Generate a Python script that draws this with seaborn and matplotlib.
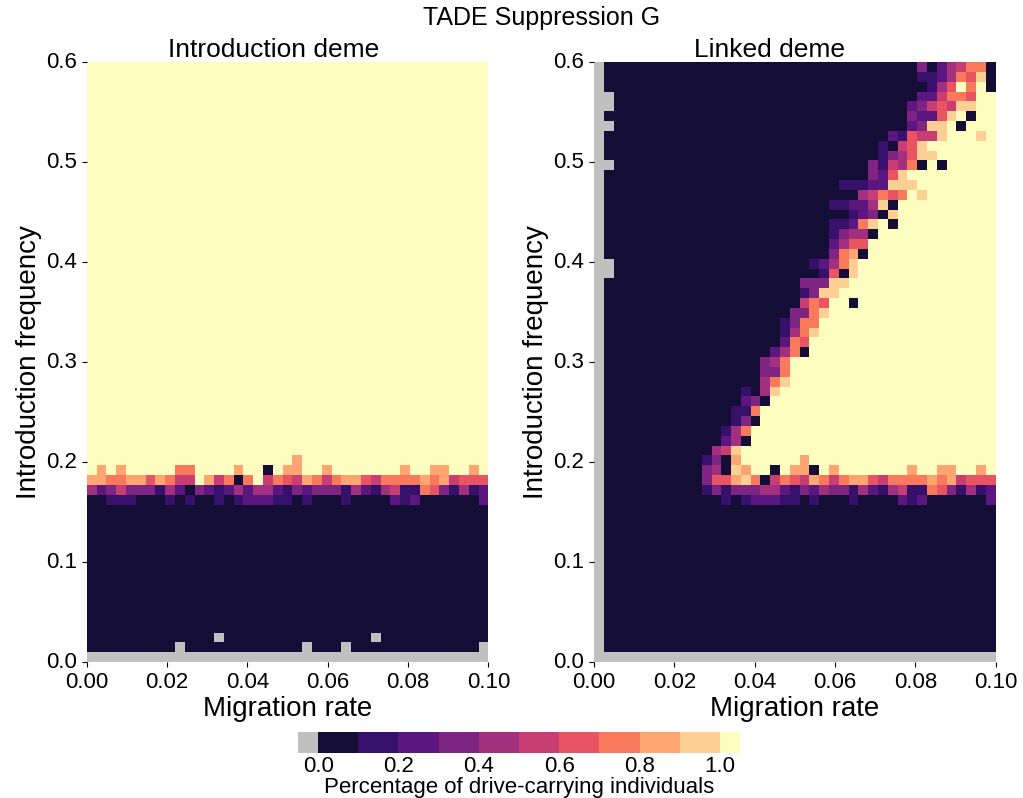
import numpy as np
import matplotlib
matplotlib.use("Agg")
import matplotlib.pyplot as plt
import seaborn as sns
from matplotlib.colors import ListedColormap, BoundaryNorm

plt.rcParams['font.family'] = ['Liberation Sans', 'DejaVu Sans']

# ---------------- data ----------------
title = "TADE Suppression G"
panel_titles = ["Introduction deme", "Linked deme"]
x_label = "Migration rate"
y_label = "Introduction frequency"
cbar_label = "Percentage of drive-carrying individuals"

migration_ticks = ["0.00", "0.02", "0.04", "0.06", "0.08", "0.10"]
frequency_ticks = ["0.0", "0.1", "0.2", "0.3", "0.4", "0.5", "0.6"]
cbar_ticks = [0.0, 0.2, 0.4, 0.6, 0.8, 1.0]
cbar_ticklabels = ["0.0", "0.2", "0.4", "0.6", "0.8", "1.0"]
bin_edges = [0.0, 0.1, 0.2, 0.3, 0.4, 0.5, 0.6, 0.7, 0.8, 0.9, 1.0]

# cell codes: g = population gone (grey), 0..9 = share bin 0.0-0.1 .. 0.9-1.0, Y = 1.0
# rows listed from the top (freq 0.60) to the bottom (freq 0.00), 41 migration columns
intro_rows = [
    "YYYYYYYYYY" "YYYYYYYYYY" "YYYYYYYYYY" "YYYYYYYYYY" "Y",
    "YYYYYYYYYY" "YYYYYYYYYY" "YYYYYYYYYY" "YYYYYYYYYY" "Y",
    "YYYYYYYYYY" "YYYYYYYYYY" "YYYYYYYYYY" "YYYYYYYYYY" "Y",
    "YYYYYYYYYY" "YYYYYYYYYY" "YYYYYYYYYY" "YYYYYYYYYY" "Y",
    "YYYYYYYYYY" "YYYYYYYYYY" "YYYYYYYYYY" "YYYYYYYYYY" "Y",
    "YYYYYYYYYY" "YYYYYYYYYY" "YYYYYYYYYY" "YYYYYYYYYY" "Y",
    "YYYYYYYYYY" "YYYYYYYYYY" "YYYYYYYYYY" "YYYYYYYYYY" "Y",
    "YYYYYYYYYY" "YYYYYYYYYY" "YYYYYYYYYY" "YYYYYYYYYY" "Y",
    "YYYYYYYYYY" "YYYYYYYYYY" "YYYYYYYYYY" "YYYYYYYYYY" "Y",
    "YYYYYYYYYY" "YYYYYYYYYY" "YYYYYYYYYY" "YYYYYYYYYY" "Y",
    "YYYYYYYYYY" "YYYYYYYYYY" "YYYYYYYYYY" "YYYYYYYYYY" "Y",
    "YYYYYYYYYY" "YYYYYYYYYY" "YYYYYYYYYY" "YYYYYYYYYY" "Y",
    "YYYYYYYYYY" "YYYYYYYYYY" "YYYYYYYYYY" "YYYYYYYYYY" "Y",
    "YYYYYYYYYY" "YYYYYYYYYY" "YYYYYYYYYY" "YYYYYYYYYY" "Y",
    "YYYYYYYYYY" "YYYYYYYYYY" "YYYYYYYYYY" "YYYYYYYYYY" "Y",
    "YYYYYYYYYY" "YYYYYYYYYY" "YYYYYYYYYY" "YYYYYYYYYY" "Y",
    "YYYYYYYYYY" "YYYYYYYYYY" "YYYYYYYYYY" "YYYYYYYYYY" "Y",
    "YYYYYYYYYY" "YYYYYYYYYY" "YYYYYYYYYY" "YYYYYYYYYY" "Y",
    "YYYYYYYYYY" "YYYYYYYYYY" "YYYYYYYYYY" "YYYYYYYYYY" "Y",
    "YYYYYYYYYY" "YYYYYYYYYY" "YYYYYYYYYY" "YYYYYYYYYY" "Y",
    "YYYYYYYYYY" "YYYYYYYYYY" "YYYYYYYYYY" "YYYYYYYYYY" "Y",
    "YYYYYYYYYY" "YYYYYYYYYY" "YYYYYYYYYY" "YYYYYYYYYY" "Y",
    "YYYYYYYYYY" "YYYYYYYYYY" "YYYYYYYYYY" "YYYYYYYYYY" "Y",
    "YYYYYYYYYY" "YYYYYYYYYY" "YYYYYYYYYY" "YYYYYYYYYY" "Y",
    "YYYYYYYYYY" "YYYYYYYYYY" "YYYYYYYYYY" "YYYYYYYYYY" "Y",
    "YYYYYYYYYY" "YYYYYYYYYY" "YYYYYYYYYY" "YYYYYYYYYY" "Y",
    "YYYYYYYYYY" "YYYYYYYYYY" "YYYYYYYYYY" "YYYYYYYYYY" "Y",
    "YYYYYYYYYY" "YYYYYYYYYY" "YYYYYYYYYY" "YYYYYYYYYY" "Y",
    "YYYYYYYYYY" "YYYYYYYYYY" "YYYYYYYYYY" "YYYYYYYYYY" "Y",
    "YYYYYYYYYY" "YYYYYYYYYY" "YYYYYYYYYY" "YYYYYYYYYY" "Y",
    "YYYYYYYYYY" "YYYYYYYYYY" "YYYYYYYYYY" "YYYYYYYYYY" "Y",
    "YYYYYYYYYY" "YYYYYYYYYY" "YYYYYYYYYY" "YYYYYYYYYY" "Y",
    "YYYYYYYYYY" "YYYYYYYYYY" "YYYYYYYYYY" "YYYYYYYYYY" "Y",
    "YYYYYYYYYY" "YYYYYYYYYY" "YYYYYYYYYY" "YYYYYYYYYY" "Y",
    "YYYYYYYYYY" "YYYYYYYYYY" "YYYYYYYYYY" "YYYYYYYYYY" "Y",
    "YYYYYYYYYY" "YYYYYYYYYY" "YYYYYYYYYY" "YYYYYYYYYY" "Y",
    "YYYYYYYYYY" "YYYYYYYYYY" "YYYYYYYYYY" "YYYYYYYYYY" "Y",
    "YYYYYYYYYY" "YYYYYYYYYY" "YYYYYYYYYY" "YYYYYYYYYY" "Y",
    "YYYYYYYYYY" "YYYYYYYYYY" "YYYYYYYYYY" "YYYYYYYYYY" "Y",
    "YYYYYYYYYY" "YYYYYYYYYY" "YYYYYYYYYY" "YYYYYYYYYY" "Y",
    "YYYYYYYYYY" "YYYYYYYYYY" "Y8YYYYYYYY" "YYYYYYYYYY" "Y",
    "Y8Y8YYYYY7" "7YYYY8YY0Y" "88YY8YYYYY" "YY8YY88YY8" "Y",
    "8877886875" "5Y85707Y57" "6587578865" "7777878566" "6",
    "4235333142" "0321242442" "1323331421" "4511763141" "2",
    "0011100010" "1001012221" "1010001000" "0212000000" "2",
    "0000000000" "0000000000" "0000000000" "0000000000" "0",
    "0000000000" "0000000000" "0000000000" "0000000000" "0",
    "0000000000" "0000000000" "0000000000" "0000000000" "0",
    "0000000000" "0000000000" "0000000000" "0000000000" "0",
    "0000000000" "0000000000" "0000000000" "0000000000" "0",
    "0000000000" "0000000000" "0000000000" "0000000000" "0",
    "0000000000" "0000000000" "0000000000" "0000000000" "0",
    "0000000000" "0000000000" "0000000000" "0000000000" "0",
    "0000000000" "0000000000" "0000000000" "0000000000" "0",
    "0000000000" "0000000000" "0000000000" "0000000000" "0",
    "0000000000" "0000000000" "0000000000" "0000000000" "0",
    "0000000000" "0000000000" "0000000000" "0000000000" "0",
    "0000000000" "0000000000" "0000000000" "0000000000" "0",
    "0000000000" "000g000000" "000000000g" "0000000000" "0",
    "000000000g" "0000000000" "00g000g000" "0000000000" "g",
    "gggggggggg" "gggggggggg" "gggggggggg" "gggggggggg" "g",
]

linked_rows = [
    "g000000000" "0000000000" "0000000000" "0003024577" "0",
    "g000000000" "0000000000" "0000000000" "0001124769" "0",
    "g000000000" "0000000000" "0000000000" "0000146Y7Y" "0",
    "gg00000000" "0000000000" "0000000000" "000225776Y" "Y",
    "gg00000000" "0000000000" "0000000000" "002356599Y" "Y",
    "g000000000" "0000000000" "0000000000" "0032269Y0Y" "Y",
    "gg00000000" "0000000000" "0000000000" "002399Y0YY" "Y",
    "g000000000" "0000000000" "0000000000" "216559YYY9" "Y",
    "g000000000" "0000000000" "0000000001" "0569YYYYYY" "Y",
    "g000000000" "0000000000" "0000000001" "34699YYYYY" "Y",
    "gg00000000" "0000000000" "0000000031" "5470Y0YYYY" "Y",
    "g000000000" "0000000000" "0000000032" "69YYYYYYYY" "Y",
    "g000000000" "0000000000" "0000011122" "999YYYYYYY" "Y",
    "g000000000" "0000000000" "0000000457" "67Y9YYYYYY" "Y",
    "g000000000" "0000000000" "0000112249" "0YYYYYYYYY" "Y",
    "g000000000" "0000000000" "0000001230" "9YYYYYYYYY" "Y",
    "g000000000" "0000000000" "000011279Y" "0YYYYYYYYY" "Y",
    "g000000000" "0000000000" "000013440Y" "YYYYYYYYYY" "Y",
    "g000000000" "0000000000" "00002466YY" "YYYYYYYYYY" "Y",
    "g000000000" "0000000000" "00003780YY" "YYYYYYYYYY" "Y",
    "gg00000000" "0000000000" "0012479YYY" "YYYYYYYYYY" "Y",
    "gg00000000" "0000000000" "0001609YYY" "YYYYYYYYYY" "Y",
    "g000000000" "0000000000" "033399YYYY" "YYYYYYYYYY" "Y",
    "g000000000" "0000000000" "01399YYYYY" "YYYYYYYYYY" "Y",
    "g000000000" "0000000000" "0576YY0YYY" "YYYYYYYYYY" "Y",
    "g000000000" "0000000000" "3379YYYYYY" "YYYYYYYYYY" "Y",
    "g000000000" "0000000001" "377YYYYYYY" "YYYYYYYYYY" "Y",
    "g000000000" "0000000001" "479YYYYYYY" "YYYYYYYYYY" "Y",
    "g000000000" "0000000002" "76YYYYYYYY" "YYYYYYYYYY" "Y",
    "g000000000" "0000000024" "70YYYYYYYY" "YYYYYYYYYY" "Y",
    "g000000000" "0000000347" "YYYYYYYYYY" "YYYYYYYYYY" "Y",
    "g000000000" "0000000337" "YYYYYYYYYY" "YYYYYYYYYY" "Y",
    "g000000000" "0000000479" "YYYYYYYYYY" "YYYYYYYYYY" "Y",
    "g000000000" "000001049Y" "YYYYYYYYYY" "YYYYYYYYYY" "Y",
    "g000000000" "00000230YY" "YYYYYYYYYY" "YYYYYYYYYY" "Y",
    "g000000000" "0000117YYY" "YYYYYYYYYY" "YYYYYYYYYY" "Y",
    "g000000000" "0000130YYY" "YYYYYYYYYY" "YYYYYYYYYY" "Y",
    "g000000000" "000147YYYY" "YYYYYYYYYY" "YYYYYYYYYY" "Y",
    "g000000000" "000240YYYY" "YYYYYYYYYY" "YYYYYYYYYY" "Y",
    "g000000000" "00459YYYYY" "YYYYYYYYYY" "YYYYYYYYYY" "Y",
    "g000000000" "01308YYYYY" "Y8YYYYYYYY" "YYYYYYYYYY" "Y",
    "g000000000" "034098YY0Y" "880Y8YYYYY" "YY8YY88YY8" "Y",
    "g000000000" "0366897057" "6587578865" "7777878566" "6",
    "g000000000" "0131333442" "1324331421" "4511763141" "2",
    "g000000000" "0001012221" "1010001000" "0212000000" "2",
    "g000000000" "0000000000" "0000000000" "0000000000" "0",
    "g000000000" "0000000000" "0000000000" "0000000000" "0",
    "g000000000" "0000000000" "0000000000" "0000000000" "0",
    "g000000000" "0000000000" "0000000000" "0000000000" "0",
    "g000000000" "0000000000" "0000000000" "0000000000" "0",
    "g000000000" "0000000000" "0000000000" "0000000000" "0",
    "g000000000" "0000000000" "0000000000" "0000000000" "0",
    "g000000000" "0000000000" "0000000000" "0000000000" "0",
    "g000000000" "0000000000" "0000000000" "0000000000" "0",
    "g000000000" "0000000000" "0000000000" "0000000000" "0",
    "g000000000" "0000000000" "0000000000" "0000000000" "0",
    "g000000000" "0000000000" "0000000000" "0000000000" "0",
    "g000000000" "0000000000" "0000000000" "0000000000" "0",
    "g000000000" "0000000000" "0000000000" "0000000000" "0",
    "g000000000" "0000000000" "0000000000" "0000000000" "0",
    "gggggggggg" "gggggggggg" "gggggggggg" "gggggggggg" "g",
]


def decode(rows):
    out = []
    for r in rows:
        assert len(r) == 41, (len(r), r)
        vals = []
        for ch in r:
            if ch == "g":
                vals.append(-0.5)
            elif ch == "Y":
                vals.append(1.0)
            else:
                vals.append((int(ch) + 0.5) / 10.0)
        out.append(vals)
    assert len(out) == 61
    return np.array(out)


grids = [decode(intro_rows), decode(linked_rows)]

# ---------------- colours ----------------
magma = plt.get_cmap("magma")
cmap = ListedColormap(magma(np.linspace(0.1, 0.9, 10)))
cmap.set_under("#c0c0c0")
cmap.set_over(magma(1.0))
norm = BoundaryNorm(bin_edges, cmap.N)

# ---------------- figure ----------------
fig = plt.figure(figsize=(10.23, 7.98), dpi=100)
ax_l = fig.add_axes([0.0848, 0.1704, 0.3926, 0.7519])
ax_r = fig.add_axes([0.5806, 0.1704, 0.3926, 0.7519])
cax = fig.add_axes([0.2913, 0.0564, 0.4321, 0.0263])

title_x = [0.466, 0.438]
for ax, grid, ptitle, tx in zip([ax_l, ax_r], grids, panel_titles, title_x):
    sns.heatmap(grid, ax=ax, cmap=cmap, norm=norm, cbar=False,
                xticklabels=False, yticklabels=False, linewidths=0)
    nrow, ncol = grid.shape
    ax.set_xticks(np.linspace(0, ncol, len(migration_ticks)))
    ax.set_xticklabels(migration_ticks, rotation=0)
    ax.set_yticks(np.linspace(0, nrow, len(frequency_ticks)))
    ax.set_yticklabels(frequency_ticks[::-1], rotation=0, va="center")
    ax.tick_params(axis="both", length=3.5, width=0.8, pad=3.5, labelsize=16,
                   colors="black")
    ax.set_xlabel(x_label, fontsize=20, labelpad=2)
    ax.set_ylabel(y_label, fontsize=20, labelpad=3)
    ax.set_title(ptitle, fontsize=19, pad=3, x=tx)

fig.text(0.529, 1 - 18 / 798, title, ha="center", va="center", fontsize=18)

cb = fig.colorbar(ax_l.collections[0], cax=cax, orientation="horizontal",
                  extend="both", extendrect=True, ticks=cbar_ticks)
cb.set_ticklabels(cbar_ticklabels)
cb.minorticks_off()
cb.outline.set_visible(False)
cb.ax.tick_params(which="both", length=0, labelsize=16, pad=2)
cb.set_label(cbar_label, fontsize=16, labelpad=0)

fig.savefig("out.png", dpi=100)
